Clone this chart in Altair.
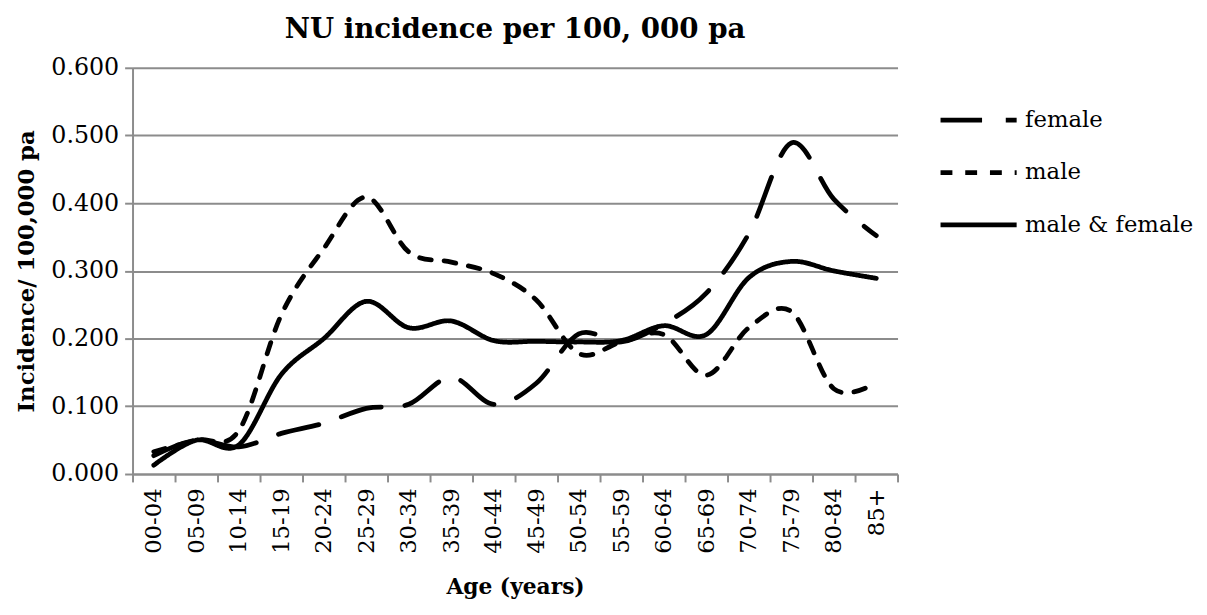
import altair as alt
import pandas as pd

ages = ["00-04", "05-09", "10-14", "15-19", "20-24", "25-29", "30-34", "35-39", "40-44",
        "45-49", "50-54", "55-59", "60-64", "65-69", "70-74", "75-79", "80-84", "85+"]
female = [0.027, 0.050, 0.040, 0.060, 0.075, 0.097, 0.103, 0.143, 0.103, 0.134, 0.207, 0.195,
          0.222, 0.267, 0.355, 0.489, 0.406, 0.352]
male = [0.033, 0.050, 0.064, 0.235, 0.333, 0.409, 0.328, 0.313, 0.296, 0.257, 0.178, 0.195,
        0.206, 0.146, 0.216, 0.240, 0.126, 0.135]
total = [0.013, 0.050, 0.043, 0.147, 0.200, 0.255, 0.216, 0.226, 0.197, 0.196, 0.195, 0.197,
         0.219, 0.206, 0.290, 0.314, 0.300, 0.289]
series = ["female", "male", "male & female"]

rows = []
for name, vals in zip(series, [female, male, total]):
    for a, v in zip(ages, vals):
        rows.append({"age": a, "value": v, "series": name})
df = pd.DataFrame(rows)

FONT = "DejaVu Serif"
GRID = "#8c8c8c"

chart = alt.Chart(df).mark_line(
    interpolate="cardinal", strokeWidth=4.8, color="black", strokeCap="round"
).encode(
    x=alt.X("age:N", sort=ages, title="Age (years)",
            scale=alt.Scale(paddingInner=0, paddingOuter=0),
            axis=alt.Axis(labelAngle=-90, tickBand="extent", tickSize=8, tickWidth=2,
                          tickColor=GRID, domainColor=GRID, domainWidth=2,
                          labelFont=FONT, labelFontSize=23, labelColor="black",
                          labelPadding=6, labelBaseline="middle",
                          titleFont=FONT, titleFontSize=22, titleFontWeight="bold",
                          titleColor="black", titlePadding=24, grid=False)),
    y=alt.Y("value:Q", title="Incidence/ 100,000 pa",
            scale=alt.Scale(domain=[0, 0.6], nice=False),
            axis=alt.Axis(values=[0, 0.1, 0.2, 0.3, 0.4, 0.5, 0.6], format=".3f",
                          tickSize=8, tickWidth=2, tickColor=GRID,
                          domainColor=GRID, domainWidth=2,
                          gridColor=GRID, gridWidth=2,
                          labelFont=FONT, labelFontSize=24, labelColor="black",
                          labelPadding=6,
                          titleFont=FONT, titleFontSize=23, titleFontWeight="bold",
                          titleColor="black", titlePadding=12)),
    strokeDash=alt.StrokeDash("series:N", sort=series,
                              scale=alt.Scale(domain=series,
                                              range=[[42, 24], [12, 13], [1, 0]]),
                              legend=alt.Legend(title=None, orient="none",
                                                legendX=815, legendY=12,
                                                symbolType="stroke", symbolSize=5929,
                                                symbolStrokeWidth=4.8,
                                                symbolStrokeColor="black",
                                                labelFont=FONT, labelFontSize=23,
                                                labelColor="black", labelOffset=6,
                                                labelLimit=0, rowPadding=0)),
).properties(
    width=774,
    height=411,
    title=alt.TitleParams("NU incidence per 100, 000 pa", font=FONT, fontSize=28,
                          fontWeight="bold", color="black", offset=12, frame="group"),
    padding={"left": 8, "top": 5, "right": 5, "bottom": 0},
).configure_view(stroke=None).configure_legend(labelFont=FONT)

chart.save("out.html", embed_options={"renderer": "svg", "actions": False})
